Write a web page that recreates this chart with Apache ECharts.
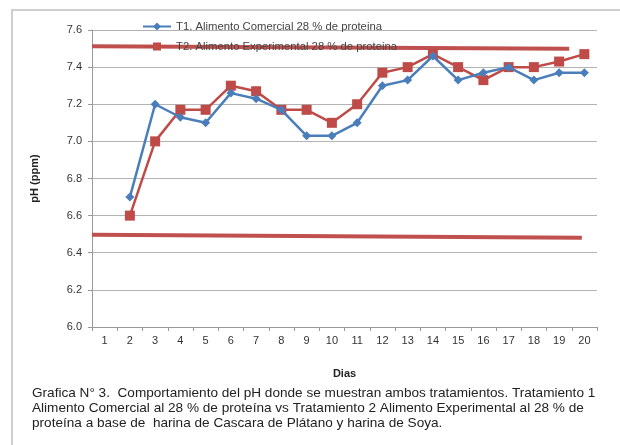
<!DOCTYPE html>
<html>
<head>
<meta charset="utf-8">
<script src="https://cdn.jsdelivr.net/npm/echarts@6/dist/echarts.min.js"></script>
<style>
  html, body { margin: 0; padding: 0; background: #fff; }
  #main { width: 620px; height: 445px; }
</style>
</head>
<body>
<div id="main"></div>
<script>
// dias y valores de pH
var dias = ["1", "2", "3", "4", "5", "6", "7", "8", "9", "10",
  "11", "12", "13", "14", "15", "16", "17", "18", "19", "20"];
var t1 = [null, 6.7, 7.2, 7.13, 7.1, 7.26, 7.23, 7.17, 7.03, 7.03,
  7.1, 7.3, 7.33, 7.46, 7.33, 7.37, 7.4, 7.33, 7.37, 7.37];
var t2 = [null, 6.6, 7.0, 7.17, 7.17, 7.3, 7.27, 7.17, 7.17, 7.1,
  7.2, 7.37, 7.4, 7.47, 7.4, 7.33, 7.4, 7.4, 7.43, 7.47];
// lineas rojas de rango (x en posicion de dia, 0.5 = borde del eje)
var limiteSup = [[0.5, 7.513], [19.4, 7.499]];
var limiteInf = [[0.5, 6.497], [19.9, 6.481]];

var nombreT1 = "T1. Alimento Comercial 28 % de proteina";
var nombreT2 = "T2. Alimento Experimental 28 % de proteina";

var chartMain = echarts.init(document.getElementById("main"));
var option = {
  animation: false,
  textStyle: { fontFamily: "Liberation Sans" },
  grid: { left: 92, right: 23, top: 30, bottom: 118 },
  legend: {
    data: [nombreT1, nombreT2],
    orient: "vertical",
    left: 137,
    top: 16,
    itemGap: 9,
    itemWidth: 28,
    itemHeight: 10,
    textStyle: { fontSize: 11.3, color: "#444" },
  },
  graphic: [
    {
      type: "rect",
      shape: { x: 12, y: 10, width: 640, height: 470 },
      style: { fill: "none", stroke: "#cfcfcf", lineWidth: 2 },
      silent: true,
    },
    {
      type: "text",
      left: 32,
      top: 386,
      style: {
        text: "Grafica N° 3.  Comportamiento del pH donde se muestran ambos tratamientos. Tratamiento 1\n" +
          "Alimento Comercial al 28 % de proteína vs Tratamiento 2 Alimento Experimental al 28 % de\n" +
          "proteína a base de  harina de Cascara de Plátano y harina de Soya.",
        fontSize: 13.6,
        lineHeight: 15,
        fill: "#222",
        fontFamily: "Liberation Sans",
      },
    },
  ],
  xAxis: [
    {
      type: "category",
      data: dias,
      boundaryGap: true,
      name: "Dias",
      nameLocation: "middle",
      nameGap: 41,
      nameTextStyle: { fontWeight: "bold", fontSize: 11, color: "#222" },
      axisLine: { lineStyle: { color: "#999" } },
      axisTick: { show: true, length: 4, lineStyle: { color: "#999" } },
      axisLabel: { fontSize: 11, color: "#333", margin: 8 },
    },
    {
      type: "value",
      min: 0.5,
      max: 20.5,
      show: false,
    },
  ],
  yAxis: {
    type: "value",
    min: 6.0,
    max: 7.6,
    interval: 0.2,
    name: "pH (ppm)",
    nameLocation: "middle",
    nameGap: 52,
    nameRotate: 90,
    nameTextStyle: { fontWeight: "bold", fontSize: 11, color: "#222" },
    axisLine: { show: true, lineStyle: { color: "#999" } },
    axisTick: { show: true, length: 4, lineStyle: { color: "#999" } },
    axisLabel: {
      fontSize: 11,
      color: "#333",
      margin: 10,
      formatter: function (v) { return v.toFixed(1); },
    },
    splitLine: { lineStyle: { color: "#b3b3b3", width: 1 } },
  },
  series: [
    {
      name: "limite superior",
      type: "line",
      xAxisIndex: 1,
      data: limiteSup,
      symbol: "none",
      silent: true,
      z: 1,
      lineStyle: { color: "#c0504d", width: 4 },
    },
    {
      name: "limite inferior",
      type: "line",
      xAxisIndex: 1,
      data: limiteInf,
      symbol: "none",
      silent: true,
      z: 1,
      lineStyle: { color: "#c0504d", width: 4 },
    },
    {
      name: nombreT1,
      type: "line",
      data: t1,
      symbol: "diamond",
      symbolSize: 9,
      color: "#4a7ebb",
      lineStyle: { color: "#4a7ebb", width: 2.5 },
      itemStyle: { color: "#4a7ebb" },
      z: 3,
    },
    {
      name: nombreT2,
      type: "line",
      data: t2,
      symbol: "rect",
      symbolSize: 10,
      color: "#be4b48",
      lineStyle: { color: "#be4b48", width: 2.5 },
      itemStyle: { color: "#be4b48" },
      z: 2,
    },
  ],
};
chartMain && chartMain.setOption(option);
</script>
</body>
</html>
